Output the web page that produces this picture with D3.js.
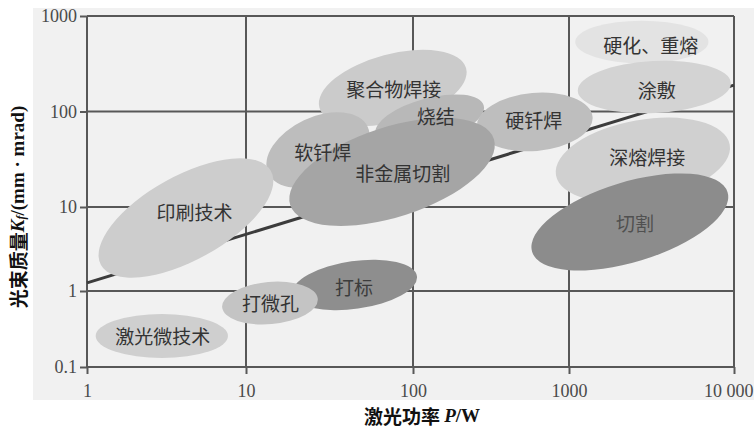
<!DOCTYPE html>
<html>
<head>
<meta charset="utf-8">
<script src="https://cdn.jsdelivr.net/npm/d3@7"></script>
<style>
  html, body { margin: 0; padding: 0; background: #ffffff; }
  svg { display: block; }
</style>
</head>
<body>
<svg id="chart" width="754" height="429"></svg>
<script>
// ---- data ----
const powerTicks = [1, 10, 100, 1000, 10000];
const powerTickLabels = ["1", "10", "100", "1000", "10 000"];
const qualityTicks = [0.1, 1, 10, 100, 1000];
const qualityTickLabels = ["0.1", "1", "10", "100", "1000"];

// application regions (draw order), major-axis end points in data units
const processNames  = ["硬化、重熔", "涂敷", "深熔焊接", "切割", "聚合物焊接", "软钎焊", "烧结", "硬钎焊", "非金属切割", "印刷技术", "打标", "打微孔", "激光微技术"];
const powerFrom     = [1091, 1130, 825, 580, 27.5, 13.6, 59.7, 257, 18.4, 1.224, 19.0, 7.08, 1.134];
const qualityFrom   = [535, 164, 21.5, 2.93, 110, 22.5, 57.4, 68.7, 10.5, 2.04, 0.92, 0.61, 0.256];
const powerTo       = [7000, 9570, 9420, 9140, 219, 53.5, 284, 1390, 330, 14.1, 106, 26.9, 7.70];
const qualityTo     = [535, 199, 44.9, 14.3, 283, 69.3, 115.6, 87.8, 51.6, 23.8, 1.50, 0.79, 0.256];
const regionAspect  = [0.32, 0.34, 0.455, 0.392, 0.447, 0.6, 0.39, 0.5, 0.42, 0.433, 0.38, 0.44, 0.333];
const labelPower    = [3135, 3408, 2985, 2508, 76.7, 28.8, 140, 594, 86.7, 4.74, 44.3, 14.0, 3.0];
const labelQuality  = [497, 168, 33.4, 6.45, 176, 37.7, 91.9, 81.5, 22.7, 8.72, 1.12, 0.716, 0.256];
const regionShade   = ["#e3e3e3", "#d3d3d3", "#d0d0d0", "#8c8c8c", "#cbcbcb", "#bdbdbd", "#b8b8b8", "#bebebe", "#a5a5a5", "#cdcdcd", "#8e8e8e", "#c4c4c4", "#cfcfcf"];
const labelShade    = ["#333", "#333", "#333", "#505050", "#333", "#333", "#333", "#333", "#333", "#333", "#3c3c3c", "#333", "#333"];

// boundary line
const boundaryPower = [1, 10000];
const boundaryQuality = [1.25, 189];

// ---- scales ----
const svg = d3.select("#chart");
const x = d3.scaleLog().domain(powerTicks).range([87, 246, 413, 569, 734]);
const y = d3.scaleLog().domain(qualityTicks).range([367, 291, 207, 111.5, 16]);

// scanned-page backdrop
svg.append("rect").attr("x", 33).attr("y", 8).attr("width", 721).attr("height", 392).attr("fill", "#f1f1f1");

const gridColor = "#585858";

// grid + frame
const g = svg.append("g");
g.selectAll("line.v").data(powerTicks).join("line")
  .attr("x1", d => x(d)).attr("x2", d => x(d))
  .attr("y1", y(1000)).attr("y2", y(0.1))
  .attr("stroke", gridColor).attr("stroke-width", 2);
g.selectAll("line.h").data(qualityTicks).join("line")
  .attr("y1", d => y(d)).attr("y2", d => y(d))
  .attr("x1", x(1)).attr("x2", x(10000))
  .attr("stroke", gridColor).attr("stroke-width", 2);

// boundary line
svg.append("path")
  .datum(boundaryPower.map((p, i) => [p, boundaryQuality[i]]))
  .attr("d", d3.line().x(d => x(d[0])).y(d => y(d[1])))
  .attr("fill", "none").attr("stroke", "#3c3c3c").attr("stroke-width", 3);

// axes
const xAxis = svg.append("g").attr("transform", `translate(0,${y(0.1)})`)
  .call(d3.axisBottom(x).tickValues(powerTicks).tickFormat((d, i) => powerTickLabels[i]).tickSize(7).tickPadding(10));
const yAxis = svg.append("g").attr("transform", `translate(${x(1)},0)`)
  .call(d3.axisLeft(y).tickValues(qualityTicks).tickFormat((d, i) => qualityTickLabels[i]).tickSize(7).tickPadding(3));
[xAxis, yAxis].forEach(a => {
  a.select(".domain").remove();
  a.selectAll(".tick line").attr("stroke", gridColor).attr("stroke-width", 2);
  a.selectAll(".tick text").attr("fill", "#4a4a4a")
    .style("font-family", "'Liberation Serif', 'DejaVu Serif', serif").style("font-size", "18px");
});
// last power label sits against the right edge
xAxis.selectAll(".tick text").filter(d => d === 10000).attr("text-anchor", "end").attr("dx", 19);

// regions
const regions = processNames.map((name, i) => {
  const x1 = x(powerFrom[i]), y1 = y(qualityFrom[i]);
  const x2 = x(powerTo[i]), y2 = y(qualityTo[i]);
  const a = Math.hypot(x2 - x1, y2 - y1) / 2;
  return {
    name, cx: (x1 + x2) / 2, cy: (y1 + y2) / 2, rx: a, ry: a * regionAspect[i],
    angle: Math.atan2(y2 - y1, x2 - x1) * 180 / Math.PI,
    fill: regionShade[i], lx: x(labelPower[i]), ly: y(labelQuality[i]), lc: labelShade[i]
  };
});
const rg = svg.append("g");
rg.selectAll("ellipse").data(regions).join("ellipse")
  .attr("cx", d => d.cx).attr("cy", d => d.cy)
  .attr("rx", d => d.rx).attr("ry", d => d.ry)
  .attr("transform", d => `rotate(${d.angle},${d.cx},${d.cy})`)
  .attr("fill", d => d.fill);

svg.append("g").selectAll("text").data(regions).join("text")
  .attr("x", d => d.lx).attr("y", d => d.ly)
  .attr("text-anchor", "middle").attr("dominant-baseline", "central")
  .attr("fill", d => d.lc)
  .style("font-family", "'Noto Sans CJK SC', sans-serif").style("font-size", "19px")
  .text(d => d.name);

// axis titles
const serif = "'Liberation Serif', 'DejaVu Serif', serif";
const cjk = "'Noto Sans CJK SC', sans-serif";
const yt = svg.append("text")
  .attr("transform", "translate(17,207) rotate(-90)")
  .attr("text-anchor", "middle").attr("dominant-baseline", "central")
  .attr("fill", "#111").style("font-size", "19px").style("font-weight", "bold");
yt.append("tspan").style("font-family", cjk).text("光束质量");
yt.append("tspan").style("font-family", serif).style("font-style", "italic").text("K");
yt.append("tspan").style("font-family", serif).style("font-style", "italic").style("font-size", "12px").attr("dy", 4).text("f");
yt.append("tspan").style("font-family", serif).attr("dy", -4).text("/(mm · mrad)");

const xt = svg.append("text")
  .attr("x", 422).attr("y", 415)
  .attr("text-anchor", "middle").attr("dominant-baseline", "central")
  .attr("fill", "#111").style("font-size", "19px").style("font-weight", "bold");
xt.append("tspan").style("font-family", cjk).text("激光功率 ");
xt.append("tspan").style("font-family", serif).style("font-style", "italic").text("P");
xt.append("tspan").style("font-family", serif).text("/W");
</script>
</body>
</html>
